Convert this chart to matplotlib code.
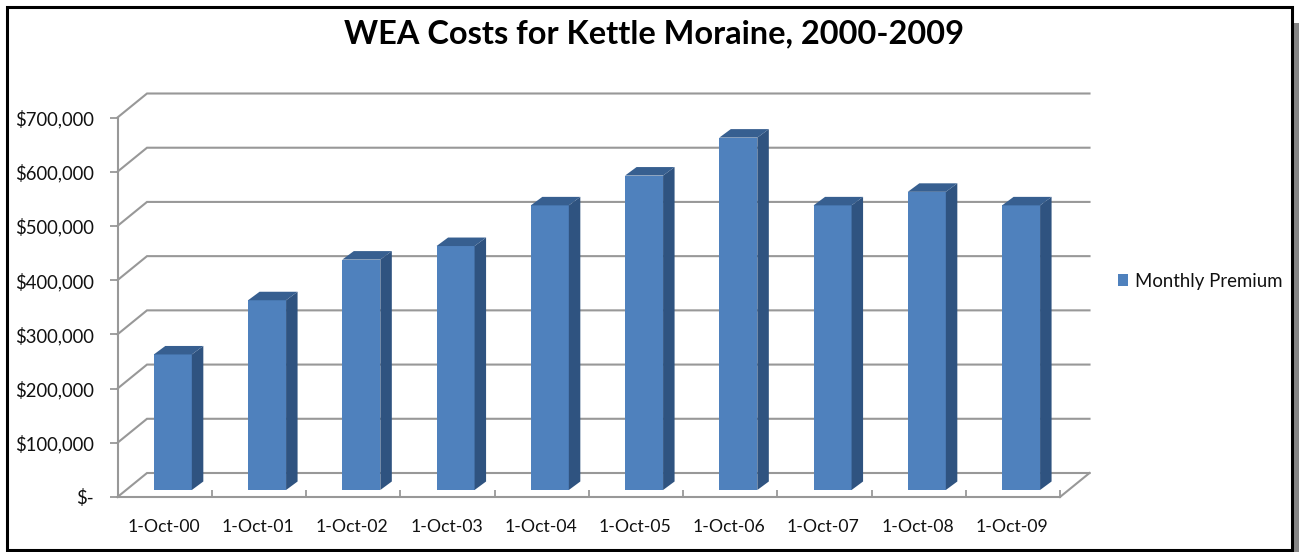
import matplotlib
matplotlib.use("Agg")
import matplotlib.pyplot as plt
from matplotlib.patches import Rectangle, Polygon, Patch

W, H = 1299, 552
dates = ["1-Oct-00", "1-Oct-01", "1-Oct-02", "1-Oct-03", "1-Oct-04",
         "1-Oct-05", "1-Oct-06", "1-Oct-07", "1-Oct-08", "1-Oct-09"]
premium = [250000, 350000, 425000, 450000, 525000, 580000, 650000, 525000, 550000, 525000]
y_ticks = [0, 100000, 200000, 300000, 400000, 500000, 600000, 700000]
y_labels = ["$-", "$100,000", "$200,000", "$300,000", "$400,000", "$500,000", "$600,000", "$700,000"]
title = "WEA Costs for Kettle Moraine, 2000-2009"
series = "Monthly Premium"

plt.rcParams['font.family'] = ['Lato', 'DejaVu Sans']
fig = plt.figure(figsize=(W / 100, H / 100), dpi=100, facecolor="white")

def fx(p): return p / W
def fy(p): return 1 - p / H

# shadow + frame
fig.patches.append(Rectangle((fx(23), 0), fx(1299 - 23), fy(23), transform=fig.transFigure,
                             fc="#858585", ec="none", zorder=0))
fig.patches.append(Rectangle((fx(7), fy(549.5)), fx(1284.5), fy(7) - fy(549.5), transform=fig.transFigure,
                             fc="white", ec="black", lw=2.2, zorder=1))

L, R, B, T = 117.5, 1060, 497, 117.5
ax = fig.add_axes([fx(L), fy(B), fx(R - L), fy(T) - fy(B)], facecolor="none", zorder=2)
ax.set_xlim(0, 10)
ax.set_ylim(0, 700000)
ux = (R - L) / 10                # px per category
uy = (B - T) / 700000            # px per dollar
wall_dx, wall_dy = 29.5 / ux, 24 / uy
grid_c = "#989898"

for v in y_ticks:
    ax.plot([0, wall_dx, 10 + wall_dx], [v, v + wall_dy, v + wall_dy], color=grid_c, lw=1.5,
            clip_on=False, zorder=1, solid_joinstyle="miter")
ax.plot([10, 10 + wall_dx], [0, wall_dy], color=grid_c, lw=1.5, clip_on=False, zorder=1)

# bars
xs = [i + 0.5 for i in range(len(premium))]
bw = 38 / ux
xoff = 8.2 / ux
base = 7 / uy
ddx, ddy = 11.5 / ux, 8.5 / uy
front, side, top = "#4F81BD", "#2F5380", "#375F90"
for x, v in zip(xs, premium):
    x0, x1 = x + xoff - bw / 2, x + xoff + bw / 2
    ax.bar(x + xoff, v, width=bw, bottom=base, color=front, zorder=3, clip_on=False)
    ax.add_patch(Polygon([(x1, base), (x1 + ddx, base + ddy), (x1 + ddx, v + base + ddy), (x1, v + base)],
                         fc=side, ec="none", zorder=3, clip_on=False))
    ax.add_patch(Polygon([(x0, v + base), (x0 + ddx, v + base + ddy), (x1 + ddx, v + base + ddy), (x1, v + base)],
                         fc=top, ec="none", zorder=3, clip_on=False))

for s in ("top", "right"):
    ax.spines[s].set_visible(False)
for s in ("left", "bottom"):
    ax.spines[s].set_color(grid_c)
    ax.spines[s].set_linewidth(1.5)
    ax.spines[s].set_zorder(2)

ax.set_yticks(y_ticks)
ax.set_yticklabels(y_labels, fontsize=13.35, color="#111111")
ax.tick_params(axis="y", length=5.5, width=1.3, color=grid_c, pad=11.5)
ax.set_xticks(range(1, 11))
ax.set_xticklabels([])
ax.tick_params(axis="x", direction="in", length=5, width=1.3, color=grid_c)
for x, d in zip(xs, dates):
    ax.annotate(d, (x, 0), xytext=(-1, -22), textcoords="offset pixels", ha="center", va="top",
                fontsize=12.7, color="#111111", annotation_clip=False)

fig.text(fx(654.5), fy(34), title, fontsize=23.4, fontweight="bold", ha="center", va="center",
         color="black", zorder=5)

leg = ax.legend(handles=[Patch(fc=front, ec="none", label=series)], loc="center left",
                bbox_to_anchor=(fx(1112), fy(281)), bbox_transform=fig.transFigure,
                frameon=False, fontsize=13.4, handlelength=0.55, handleheight=0.55,
                handletextpad=0.36, borderpad=0.3, borderaxespad=0, labelcolor="#111111")

fig.savefig("out.png", dpi=100)
